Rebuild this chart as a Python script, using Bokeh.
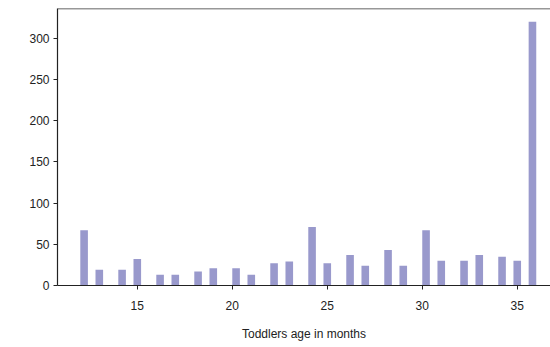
import numpy as np
from bokeh.plotting import figure
from bokeh.models import Span, FixedTicker, Range1d
from bokeh.embed import file_html
from bokeh.resources import INLINE

# Data: number of toddlers per age (months)
ages = [12, 13, 14, 15, 16, 17, 18, 19, 20, 21, 22, 23, 24,
        25, 26, 27, 28, 29, 30, 31, 32, 33, 34, 35, 36]
counts = [67, 19, 19, 32, 13, 13, 17, 21, 21, 13, 27, 29, 71,
          27, 37, 24, 43, 24, 67, 30, 30, 37, 35, 30, 320]
x_ticks = [15, 20, 25, 30, 35]
y_ticks = [0, 50, 100, 150, 200, 250, 300]

# histogram with 60 bins over the age range (as the original chart)
hist, edges = np.histogram(ages, bins=60, range=(min(ages), max(ages)), weights=counts)
mask = hist > 0
left = edges[:-1][mask]
right = edges[1:][mask]
top = hist[mask]

FONT = "Liberation Sans"

p = figure(width=550, height=343, output_backend="svg", toolbar_location=None,
           x_range=Range1d(10.8, 36.75), y_range=Range1d(0, 336),
           min_border_left=57, min_border_right=0, min_border_top=8)

p.quad(left=left, right=right, bottom=0, top=top,
       fill_color="#9999cc", line_color=None)

p.outline_line_color = None
p.add_layout(Span(location=336, dimension="width", line_color="#333333", line_width=1.5))

p.xgrid.visible = False
p.ygrid.visible = False

for ax in (p.xaxis, p.yaxis):
    ax.axis_line_color = "#222222"
    ax.axis_line_width = 1.2
    ax.major_tick_line_color = "#222222"
    ax.major_tick_out = 4
    ax.major_tick_in = 0
    ax.minor_tick_line_color = None
    ax.major_label_text_font = FONT
    ax.major_label_text_font_size = "12px"
    ax.major_label_text_color = "#222222"

p.xaxis.ticker = FixedTicker(ticks=x_ticks)
p.yaxis.ticker = FixedTicker(ticks=y_ticks)
p.xaxis.major_label_standoff = 11
p.yaxis.major_label_standoff = 4
p.xaxis.axis_label = "Toddlers age in months"
p.xaxis.axis_label_text_font = FONT
p.xaxis.axis_label_text_font_size = "12px"
p.xaxis.axis_label_text_font_style = "normal"
p.xaxis.axis_label_text_color = "#222222"
p.xaxis.axis_label_standoff = 14

open("out.html", "w").write(file_html(p, INLINE))
